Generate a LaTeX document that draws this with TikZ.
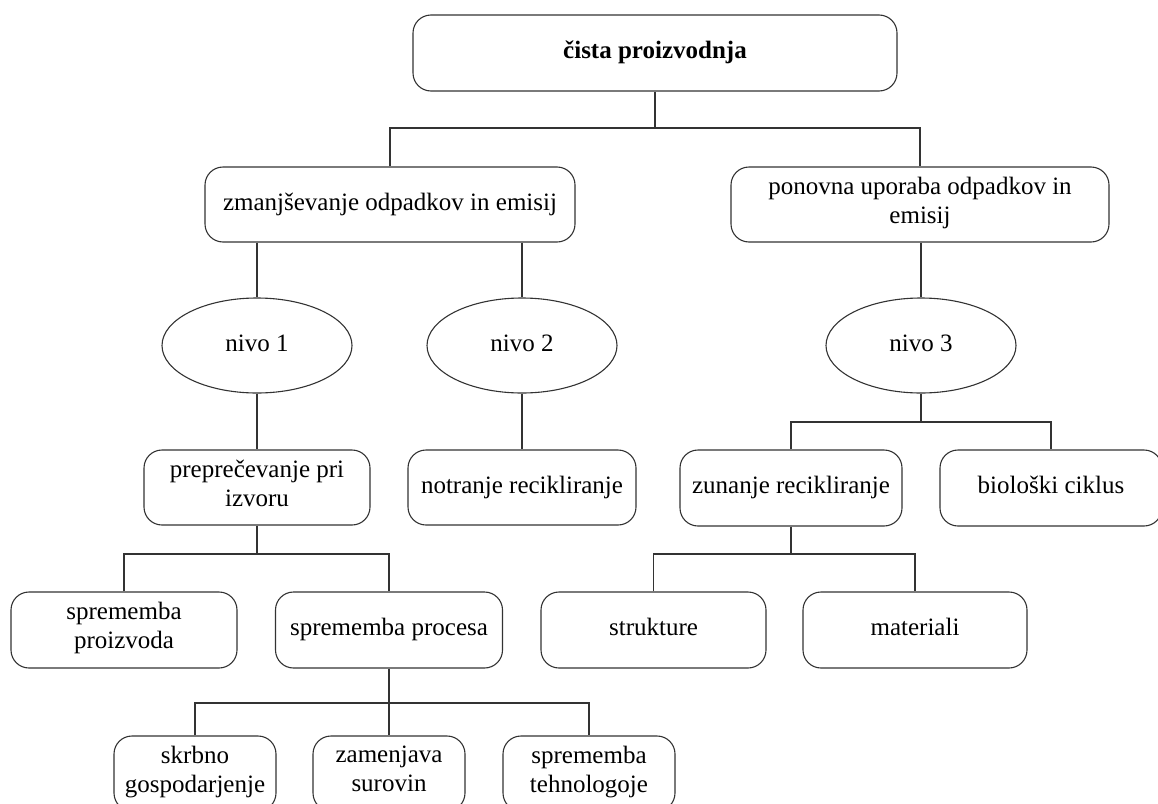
\documentclass[tikz,border=0pt]{standalone}
\usepackage{fontspec}
\setmainfont{Liberation Serif}
\usetikzlibrary{shapes.geometric}
\definecolor{linec}{HTML}{333333}
\begin{document}
\begin{tikzpicture}[x=1pt,y=-1pt,
  every node/.style={font=\fontsize{25}{29}\selectfont, align=center, inner sep=0pt,
    execute at begin node={\strut}, execute at end node={\strut}},
  rbox/.style={draw=linec, line width=1.1pt, rounded corners=18pt, minimum height=75pt},
  oval/.style={ellipse, draw=linec, line width=1.1pt, minimum width=190pt, minimum height=95pt},
  link/.style={draw=linec, line width=1.1pt}]
\fill[white] (0,0) rectangle (1158,803);
\useasboundingbox (0,0) rectangle (1158,803);

% root
\node[rbox, minimum width=484pt, minimum height=76pt, font=\bfseries\fontsize{25}{29}\selectfont] (top) at (655,53) {čista proizvodnja};

% first level
\node[rbox, minimum width=370pt] (red) at (390,204.5) {zmanjševanje odpadkov in emisij};
\node[rbox, minimum width=378pt] (reuse) at (920,204.5) {ponovna uporaba odpadkov in\\emisij};

% levels
\node[oval] (n1) at (257,345.5) {nivo 1};
\node[oval] (n2) at (522,345.5) {nivo 2};
\node[oval] (n3) at (921,345.5) {nivo 3};

% second level
\node[rbox, minimum width=226pt] (prev) at (257,487.5) {preprečevanje pri\\izvoru};
\node[rbox, minimum width=228pt] (inrec) at (522,487.5) {notranje recikliranje};
\node[rbox, minimum width=222pt, minimum height=76pt] (exrec) at (791,488) {zunanje recikliranje};
\node[rbox, minimum width=222pt, minimum height=76pt] (bio) at (1051,488) {biološki ciklus};

% third level
\node[rbox, minimum width=226pt, minimum height=76pt] (prod) at (124,630) {sprememba\\proizvoda};
\node[rbox, minimum width=227pt, minimum height=76pt] (proc) at (389,630) {sprememba procesa};
\node[rbox, minimum width=225pt, minimum height=76pt] (str) at (653.5,630) {strukture};
\node[rbox, minimum width=224pt, minimum height=76pt] (mat) at (915,630) {materiali};

% fourth level
\node[rbox, minimum width=162pt] (care) at (195,773.5) {skrbno\\gospodarjenje};
\node[rbox, minimum width=152pt] (subst) at (389,773.5) {zamenjava\\surovin};
\node[rbox, minimum width=172pt] (tech) at (589,773.5) {sprememba\\tehnologoje};

% connectors
\coordinate (j0) at (655,128);
\draw[link] (top.south) -- (j0);
\draw[link] (red.north) |- (j0) -| (reuse.north);
\draw[link] (red.south -| n1.north) -- (n1.north);
\draw[link] (red.south -| n2.north) -- (n2.north);
\draw[link] (reuse.south -| n3.north) -- (n3.north);
\draw[link] (n1.south) -- (prev.north);
\draw[link] (n2.south) -- (inrec.north);

\coordinate (j3) at (921,422);
\draw[link] (n3.south) -- (j3);
\draw[link] (exrec.north) |- (j3) -| (bio.north);

\coordinate (j4) at (257,554);
\draw[link] (prev.south) -- (j4);
\draw[link] (prod.north) |- (j4) -| (proc.north);

\coordinate (j5) at (791,554);
\draw[link] (exrec.south) -- (j5);
\draw[link] (str.north) |- (j5) -| (mat.north);

\coordinate (j6) at (389,703);
\draw[link] (proc.south) -- (j6);
\draw[link] (care.north) |- (j6) -| (tech.north);
\draw[link] (j6) -- (subst.north);
\end{tikzpicture}
\end{document}
